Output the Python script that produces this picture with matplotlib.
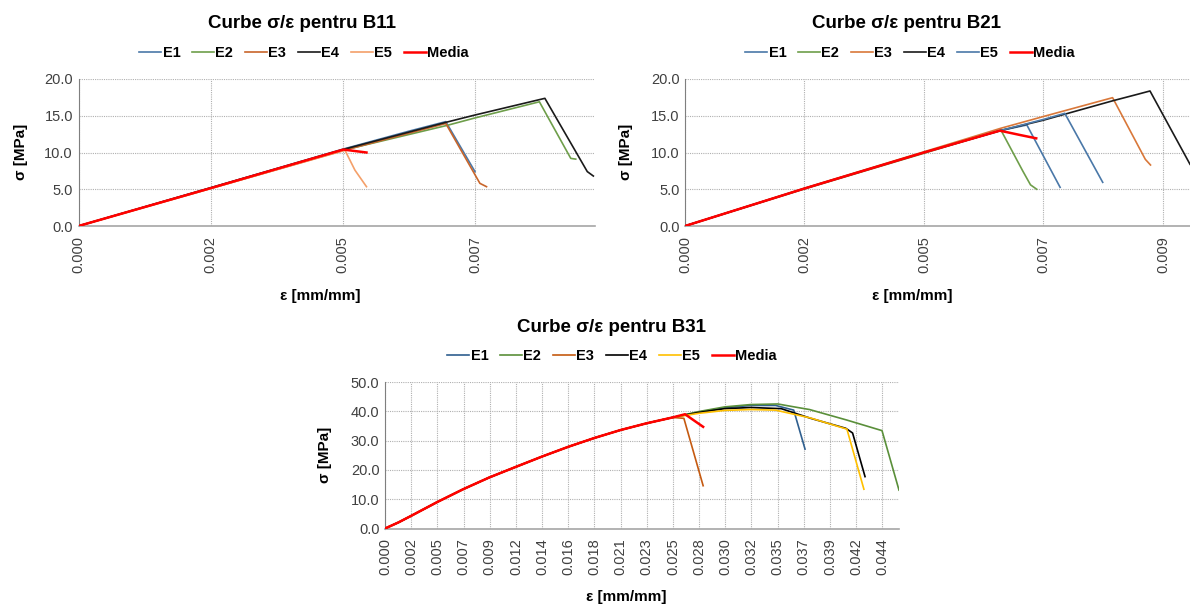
import matplotlib.pyplot as plt
from matplotlib.ticker import MultipleLocator, FormatStrFormatter

plt.rcParams.update({
    "font.family": ["Liberation Sans", "DejaVu Sans"],
    "font.size": 10,
})

W, H = 1190, 606

# ---- B11 ----
b11_e1_x = [0, 0.0024, 0.0048, 0.0060, 0.00667, 0.0072]
b11_e1_y = [0, 5.2, 10.45, 12.9, 14.2, 7.4]
b11_e2_x = [0, 0.0024, 0.0048, 0.0067, 0.0072, 0.00837, 0.00894, 0.00903]
b11_e2_y = [0, 5.15, 10.3, 13.7, 14.7, 16.9, 9.2, 9.1]
b11_e3_x = [0, 0.0024, 0.0048, 0.00667, 0.00729, 0.00741]
b11_e3_y = [0, 5.1, 10.25, 13.95, 5.8, 5.35]
b11_e4_x = [0, 0.0024, 0.0048, 0.00667, 0.0072, 0.00847, 0.00924, 0.00935]
b11_e4_y = [0, 5.2, 10.4, 14.1, 15.1, 17.37, 7.4, 6.8]
b11_e5_x = [0, 0.0024, 0.00484, 0.00502, 0.00523]
b11_e5_y = [0, 5.1, 10.3, 7.6, 5.35]
b11_med_x = [0, 0.0024, 0.00481, 0.00523]
b11_med_y = [0, 5.15, 10.4, 10.0]

# ---- B21 ----
b21_e1_x = [0, 0.0023, 0.0046, 0.00608, 0.00658, 0.00722]
b21_e1_y = [0, 5.1, 10.0, 13.0, 13.74, 5.26]
b21_e2_x = [0, 0.0023, 0.0046, 0.00608, 0.0065, 0.00665, 0.00677]
b21_e2_y = [0, 5.05, 9.9, 13.06, 7.5, 5.6, 5.0]
b21_e3_x = [0, 0.0023, 0.0046, 0.00608, 0.0069, 0.00823, 0.00886, 0.00896]
b21_e3_y = [0, 5.15, 10.1, 13.3, 14.9, 17.46, 9.07, 8.3]
b21_e4_x = [0, 0.0023, 0.0046, 0.00608, 0.0069, 0.00824, 0.0087, 0.00895, 0.00972]
b21_e4_y = [0, 5.1, 10.0, 13.0, 14.4, 17.05, 17.9, 18.37, 8.4]
b21_e5_x = [0, 0.0023, 0.0046, 0.00608, 0.0069, 0.00731, 0.00804]
b21_e5_y = [0, 5.1, 10.0, 13.0, 14.5, 15.33, 5.94]
b21_med_x = [0, 0.0023, 0.0046, 0.00606, 0.00645, 0.00676]
b21_med_y = [0, 5.1, 10.0, 12.97, 12.38, 11.93]

# ---- B31 ----
b31_base_x = [0, 0.0012, 0.0023, 0.0046, 0.0069, 0.0092, 0.0116, 0.0139, 0.0162,
              0.0185, 0.0208, 0.0231, 0.0254]
b31_base_y = [0, 2.1, 4.3, 9.0, 13.4, 17.4, 21.1, 24.6, 27.9, 30.9, 33.6, 35.9, 37.9]
b31_e1_x = b31_base_x + [0.0277, 0.0300, 0.0323, 0.0345, 0.0361, 0.0371]
b31_e1_y = b31_base_y + [39.7, 41.2, 42.0, 42.0, 40.4, 27.1]
b31_e2_x = b31_base_x + [0.0277, 0.0300, 0.0323, 0.0347, 0.0360, 0.0375, 0.0408, 0.0439, 0.0454]
b31_e2_y = b31_base_y + [39.9, 41.5, 42.3, 42.5, 41.6, 40.6, 37.0, 33.4, 13.1]
b31_e3_x = b31_base_x + [0.0264, 0.0281]
b31_e3_y = b31_base_y + [37.6, 14.6]
b31_e4_x = b31_base_x + [0.0277, 0.0300, 0.0323, 0.0350, 0.0376, 0.0407, 0.0413, 0.0424]
b31_e4_y = b31_base_y + [39.6, 40.9, 41.3, 40.9, 37.6, 34.2, 32.6, 17.7]
b31_e5_x = b31_base_x + [0.0277, 0.0300, 0.0323, 0.0345, 0.0376, 0.0408, 0.0423]
b31_e5_y = b31_base_y + [39.3, 40.3, 40.6, 40.4, 37.7, 33.9, 13.4]
b31_med_x = b31_base_x + [0.0265, 0.0281]
b31_med_y = b31_base_y + [39.0, 34.7]

labels = ["E1", "E2", "E3", "E4", "E5", "Media"]
colors_b11 = ["#4a78a8", "#6e9e4a", "#c8652a", "#1a1a1a", "#f4a06a", "#ff0000"]
colors_b21 = ["#4a78a8", "#6e9e4a", "#d9783a", "#1a1a1a", "#4a78a8", "#ff0000"]
colors_b31 = ["#2f5f8f", "#5a8f3a", "#c55a11", "#000000", "#ffc000", "#ff0000"]

fig = plt.figure(figsize=(W / 100, H / 100), dpi=100)


def fx(px):
    return px / W


def fy(py):
    return 1 - py / H


def chart(left, right, top, bottom, series, colors, xmax, xstep, ymax, ystep,
          title, title_xy, legend_xy, xlabel_xy, ylabel_xy):
    ax = fig.add_axes([fx(left), fy(bottom), fx(right - left), (bottom - top) / H])
    for (x, y), c, lab in zip(series, colors, labels):
        lw = 1.8 if lab == "Media" else 1.2
        ax.plot(x, y, color=c, lw=lw, label=lab, zorder=5 if lab == "Media" else 3)
    ax.set_xlim(0, xmax)
    ax.set_ylim(0, ymax)
    ax.xaxis.set_major_locator(MultipleLocator(xstep))
    ax.xaxis.set_major_formatter(FormatStrFormatter("%.3f"))
    ax.yaxis.set_major_locator(MultipleLocator(ystep))
    ax.yaxis.set_major_formatter(FormatStrFormatter("%.1f"))
    ax.tick_params(axis="x", labelrotation=90, length=0, pad=7, labelsize=10.5, colors="#404040")
    ax.tick_params(axis="y", length=0, pad=4, labelsize=10.5, colors="#404040")
    ax.grid(True, color="#b0b0b0", lw=0.8, linestyle=(0, (1, 1)))
    ax.set_axisbelow(True)
    for s in ["top", "right"]:
        ax.spines[s].set_visible(False)
    ax.spines["left"].set_color("#7f7f7f")
    ax.spines["bottom"].set_color("#a6a6a6")
    ax.spines["bottom"].set_linewidth(1.2)
    ax.set_facecolor("none")
    fig.text(fx(title_xy[0]), fy(title_xy[1]), title, ha="center", va="center",
             fontsize=13.5, fontweight="bold")
    h, l = ax.get_legend_handles_labels()
    fig.legend(h, l, loc="center", bbox_to_anchor=(fx(legend_xy[0]), fy(legend_xy[1])),
               ncol=6, frameon=False, handlelength=1.5, handletextpad=0.1,
               columnspacing=0.8, prop={"weight": "bold", "size": 10.5})
    fig.text(fx(xlabel_xy[0]), fy(xlabel_xy[1]), "ε [mm/mm]", ha="center", va="center",
             fontsize=11, fontweight="bold")
    fig.text(fx(ylabel_xy[0]), fy(ylabel_xy[1]), "σ [MPa]", ha="center", va="center",
             fontsize=11, fontweight="bold", rotation=90)
    return ax


chart(78.5, 595, 79, 226,
      [(b11_e1_x, b11_e1_y), (b11_e2_x, b11_e2_y), (b11_e3_x, b11_e3_y),
       (b11_e4_x, b11_e4_y), (b11_e5_x, b11_e5_y), (b11_med_x, b11_med_y)],
      colors_b11, 0.00938, 0.0024, 20, 5,
      "Curbe σ/ε pentru B11", (302, 23), (304, 53), (320, 296), (21, 152))

chart(685, 1190, 79, 226,
      [(b21_e1_x, b21_e1_y), (b21_e2_x, b21_e2_y), (b21_e3_x, b21_e3_y),
       (b21_e4_x, b21_e4_y), (b21_e5_x, b21_e5_y), (b21_med_x, b21_med_y)],
      colors_b21, 0.00972, 0.0023, 20, 5,
      "Curbe σ/ε pentru B21", (906, 23), (910, 53), (912, 296), (626, 152))

chart(385, 899, 382, 528.5,
      [(b31_e1_x, b31_e1_y), (b31_e2_x, b31_e2_y), (b31_e3_x, b31_e3_y),
       (b31_e4_x, b31_e4_y), (b31_e5_x, b31_e5_y), (b31_med_x, b31_med_y)],
      colors_b31, 0.0454, 0.002312, 50, 10,
      "Curbe σ/ε pentru B31", (612, 327), (612, 356), (626, 597), (325, 455))

fig.savefig("out.png", dpi=100)
